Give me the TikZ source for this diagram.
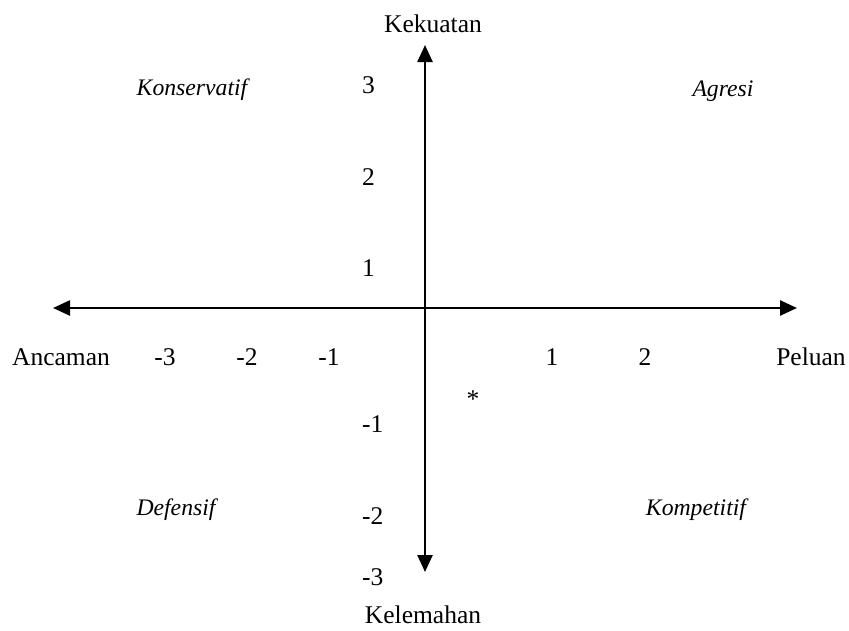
\documentclass[tikz,border=0pt]{standalone}
\usepackage{fontspec}
\setmainfont{Liberation Serif}
\usetikzlibrary{arrows.meta}

\begin{document}
\begin{tikzpicture}[x=1pt,y=-1pt,
    lbl/.style={font=\fontsize{25.5}{30}\selectfont,inner sep=0pt},
    quad/.style={font=\fontsize{23.7}{28}\selectfont\itshape,inner sep=0pt},
    axis/.style={line width=2.5pt,{Triangle[length=17pt,width=15pt]}-{Triangle[length=17pt,width=15pt]}}]
  \useasboundingbox (0,0) rectangle (849,630);
  % axes
  \coordinate (w) at (53,308);
  \coordinate (e) at (797,308);
  \coordinate (n) at (425,45);
  \coordinate (s) at (425,572);
  \draw[axis] (w) -- (e);
  \draw[axis] (n) -- (s);
  % axis titles
  \node[lbl] (kekuatan) at (433,24) {Kekuatan};
  \node[lbl] (kelemahan) at (423,615) {Kelemahan};
  \node[lbl] (ancaman) at (61,357) {Ancaman};
  \node[lbl] (peluan) at (811,357) {Peluan};
  % scale
  \foreach \v/\x [count=\i] in {-3/165,-2/247,-1/329,1/552,2/645}
    \node[lbl] (h\i) at (\x,357) {\v};
  \foreach \v/\y [count=\i] in {3/85,2/177,1/268,-1/424,-2/516,-3/577}
    \node[lbl,anchor=west] (v\i) at (362,\y) {\v};
  \node[lbl] (pos) at (473,399) {*};
  % quadrants
  \node[quad] (konservatif) at (192,90) {Konservatif};
  \node[quad] (agresi) at (723,91) {Agresi};
  \node[quad] (defensif) at (176,510) {Defensif};
  \node[quad] (kompetitif) at (696,510) {Kompetitif};
\end{tikzpicture}
\end{document}
